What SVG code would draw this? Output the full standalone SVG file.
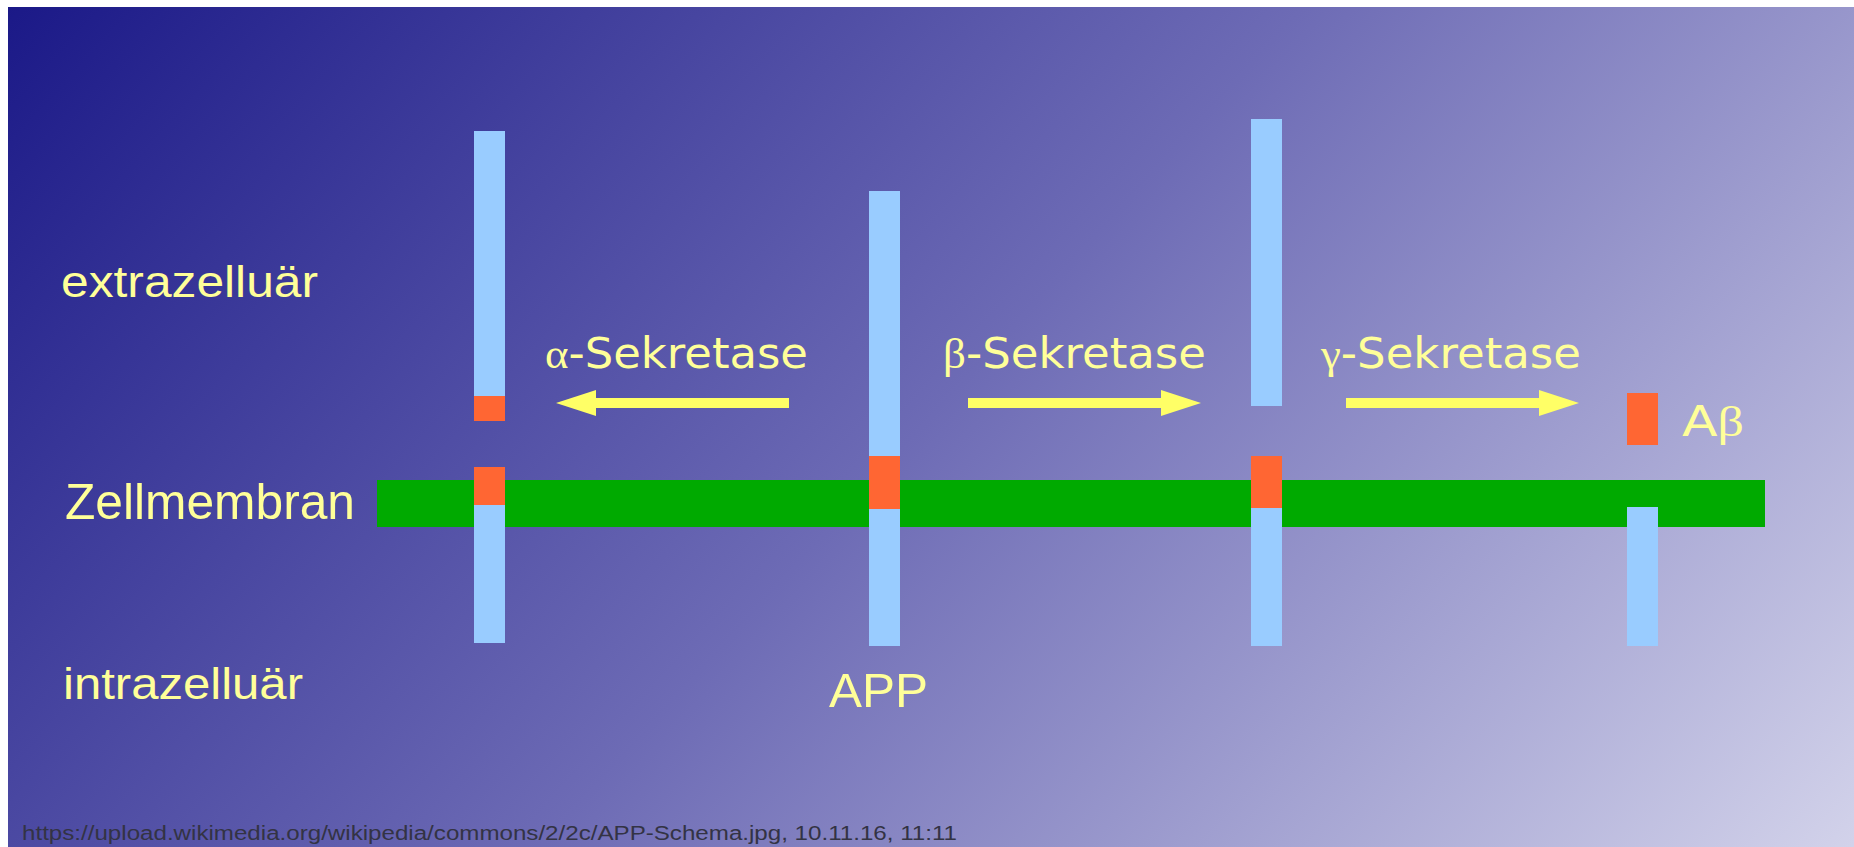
<svg xmlns="http://www.w3.org/2000/svg" width="1854" height="847" viewBox="0 0 1854 847">
<style>
.lbl{font-family:"Liberation Sans",Arial,sans-serif;fill:#ffff99}
.sek{font-family:"DejaVu Sans","Liberation Sans",sans-serif;fill:#ffff99;font-size:42px}
.gr{font-family:"Liberation Serif",serif}
.blue{fill:#99ccff}
.red{fill:#ff6633}
.mem{fill:#00aa00}
.arr{stroke:#ffff66;stroke-width:10;fill:none}
.foot{font-family:"Liberation Sans",Arial,sans-serif;fill:#333344;font-size:20px}
</style>
<defs>
<linearGradient id="bg" gradientUnits="userSpaceOnUse" x1="0" y1="0" x2="1436" y2="1304">
<stop offset="0" stop-color="#1a1887"/>
<stop offset="0.5" stop-color="#6d6bb5"/>
<stop offset="1" stop-color="#d2d2ea"/>
</linearGradient>
<marker id="head" viewBox="0 0 40 26" refX="0" refY="13" markerWidth="40" markerHeight="26" markerUnits="userSpaceOnUse" orient="auto">
<path d="M0,0 L40,13 L0,26 Z" fill="#ffff66"/>
</marker>
</defs>
<rect x="0" y="0" width="1854" height="847" fill="#ffffff"/>
<rect x="8" y="7" width="1846" height="840" fill="url(#bg)"/>

<g id="labels">
<text class="lbl" x="61" y="297" font-size="44" textLength="257" lengthAdjust="spacingAndGlyphs">extrazelluär</text>
<text class="lbl" x="65" y="519" font-size="50" textLength="290" lengthAdjust="spacingAndGlyphs">Zellmembran</text>
<text class="lbl" x="63" y="699" font-size="44" textLength="240" lengthAdjust="spacingAndGlyphs">intrazelluär</text>
</g>

<g id="membrane">
<rect class="mem" x="377" y="480" width="1388" height="47"/>
</g>

<g id="app-alpha">
<rect class="blue" x="474" y="131" width="31" height="265"/>
<rect class="red" x="474" y="396" width="31" height="25"/>
<rect class="red" x="474" y="467" width="31" height="38"/>
<rect class="blue" x="474" y="505" width="31" height="138"/>
</g>

<g id="app">
<rect class="blue" x="869" y="191" width="31" height="265"/>
<rect class="red" x="869" y="456" width="31" height="53"/>
<rect class="blue" x="869" y="509" width="31" height="137"/>
<text class="lbl" x="829" y="707" font-size="48" textLength="99" lengthAdjust="spacingAndGlyphs">APP</text>
</g>

<g id="app-beta">
<rect class="blue" x="1251" y="119" width="31" height="287"/>
<rect class="red" x="1251" y="456" width="31" height="52"/>
<rect class="blue" x="1251" y="508" width="31" height="138"/>
</g>

<g id="abeta">
<rect class="red" x="1627" y="393" width="31" height="52"/>
<rect class="blue" x="1627" y="507" width="31" height="139"/>
<text class="sek" x="1682" y="436" font-size="40" textLength="62" lengthAdjust="spacingAndGlyphs">A<tspan class="gr">β</tspan></text>
</g>

<g id="connectors">
<path class="arr" d="M789,403 L596,403" marker-end="url(#head)"/>
<path class="arr" d="M968,403 L1161,403" marker-end="url(#head)"/>
<path class="arr" d="M1346,403 L1539,403" marker-end="url(#head)"/>
<text class="sek" x="545" y="368" textLength="263" lengthAdjust="spacingAndGlyphs"><tspan class="gr">α</tspan>-Sekretase</text>
<text class="sek" x="943" y="368" textLength="263" lengthAdjust="spacingAndGlyphs"><tspan class="gr">β</tspan>-Sekretase</text>
<text class="sek" x="1321" y="368" textLength="260" lengthAdjust="spacingAndGlyphs"><tspan class="gr">γ</tspan>-Sekretase</text>
</g>

<text class="foot" x="22" y="840" textLength="935" lengthAdjust="spacingAndGlyphs">https://upload.wikimedia.org/wikipedia/commons/2/2c/APP-Schema.jpg, 10.11.16, 11:11</text>
</svg>
